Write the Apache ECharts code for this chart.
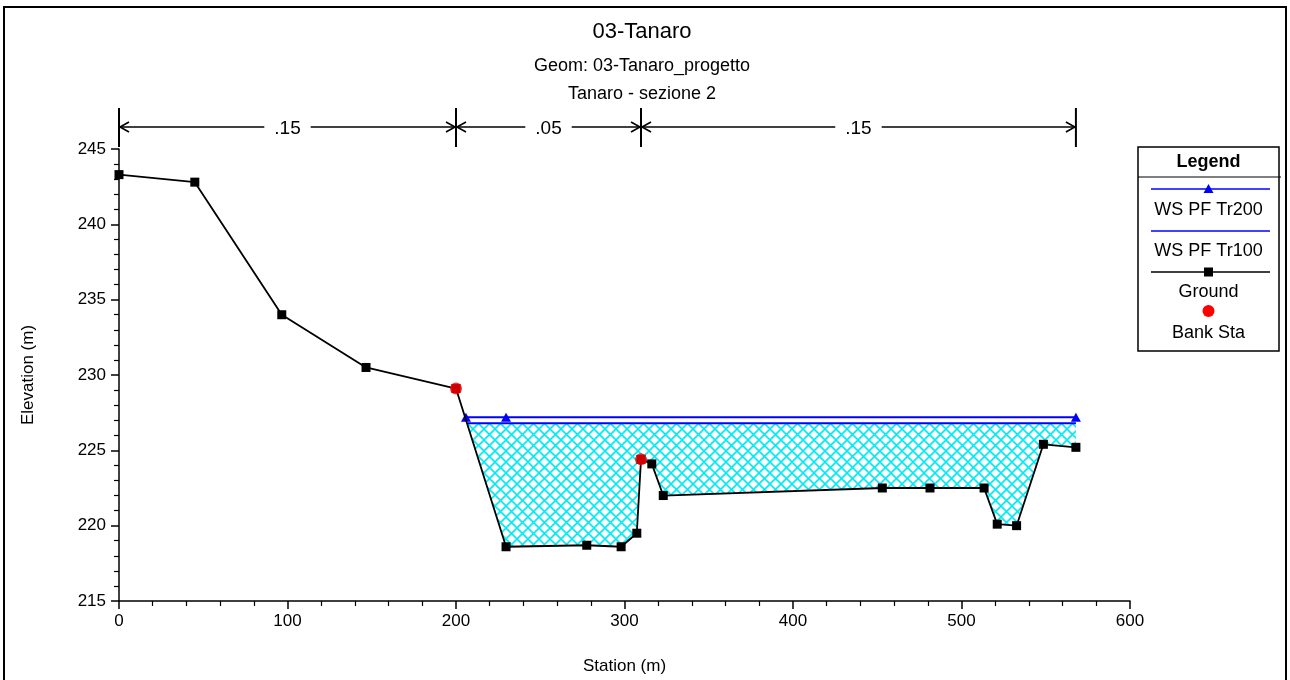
<!DOCTYPE html>
<html>
<head>
<meta charset="utf-8">
<script src="https://cdn.jsdelivr.net/npm/echarts@6/dist/echarts.min.js"></script>
<style>
  html, body { margin: 0; padding: 0; background: #fff; }
  #chart { width: 1290px; height: 680px; }
</style>
</head>
<body>
<div id="chart"></div>
<script>
// Cross section data (station m, elevation m)
const stations = [0, 45, 96.6, 146.6, 200, 229.7, 277.6, 298, 307.3, 309.8, 316.2, 323, 453, 481.3, 513.4, 521.2, 532.7, 548.6, 567.9];
const elevations = [243.3, 242.8, 234.0, 230.5, 229.1, 218.6, 218.7, 218.6, 219.5, 224.4, 224.1, 222.0, 222.5, 222.5, 222.5, 220.1, 220.0, 225.4, 225.2];

const bankStations = [200, 309.8];
const bankElevations = [229.1, 224.4];

const wsTr200Stations = [205.9, 229.7, 567.9];
const wsTr200Level = 227.2;
const wsTr100Stations = [207, 567.9];
const wsTr100Level = 226.8;

// Manning's n reaches
const nStarts = [0, 200, 309.8];
const nEnds = [200, 309.8, 567.9];
const nLabels = [".15", ".05", ".15"];

const legendNames = ["WS PF Tr200", "WS PF Tr100", "Ground", "Bank Sta"];

const FONT = '"Liberation Sans", Arial, sans-serif';

let chart = echarts.init(document.getElementById("chart"));

// cyan cross hatch
function makeHatch() {
  const s = 11;
  const c = document.createElement("canvas");
  c.width = s;
  c.height = s;
  const ctx = c.getContext("2d");
  ctx.fillStyle = "#fff";
  ctx.fillRect(0, 0, s, s);
  ctx.strokeStyle = "rgb(0,235,245)";
  ctx.lineWidth = 1.6;
  for (let k = -1; k <= 1; k++) {
    ctx.beginPath();
    ctx.moveTo(k * s, 0);
    ctx.lineTo(k * s + s, s);
    ctx.moveTo(k * s + s, 0);
    ctx.lineTo(k * s, s);
    ctx.stroke();
  }
  return c;
}
const hatch = makeHatch();

// water polygon: Tr100 surface down to the ground
function waterPolygon(level) {
  let pts = [];
  let start = -1;
  for (let i = 0; i < stations.length - 1; i++) {
    if (elevations[i] >= level && elevations[i + 1] < level) {
      const t = (elevations[i] - level) / (elevations[i] - elevations[i + 1]);
      pts.push([stations[i] + t * (stations[i + 1] - stations[i]), level]);
      start = i + 1;
      break;
    }
  }
  for (let i = start; i < stations.length; i++) {
    pts.push([stations[i], elevations[i]]);
  }
  pts.push([stations[stations.length - 1], level]);
  return pts;
}

const groundData = stations.map((x, i) => [x, elevations[i]]);
const bankData = bankStations.map((x, i) => [x, bankElevations[i]]);
const tr200Data = wsTr200Stations.map((x) => [x, wsTr200Level]);
const tr100Data = wsTr100Stations.map((x) => [x, wsTr100Level]);
const nData = nStarts.map((s, i) => [s, nEnds[i]]);

// legend drawn as HEC-RAS style box
function legendBox() {
  const left = 1138, top = 147, right = 1279, bottom = 351;
  const cx = (left + right) / 2;
  const l1 = 1151, l2 = 1270;
  const txt = (t, y, bold) => ({
    type: "text",
    x: cx,
    y: y,
    style: {
      text: t,
      font: (bold ? "bold 18px " : "18px ") + FONT,
      fill: "#000",
      align: "center",
      verticalAlign: "middle",
    },
  });
  const line = (y, color) => ({
    type: "line",
    shape: { x1: l1, y1: y, x2: l2, y2: y },
    style: { stroke: color, lineWidth: 1.6 },
  });
  return {
    type: "group",
    children: [
      {
        type: "rect",
        shape: { x: left, y: top, width: right - left, height: bottom - top },
        style: { fill: "#fff", stroke: "#000", lineWidth: 1.5 },
      },
      {
        type: "line",
        shape: { x1: left, y1: 177, x2: right + 2, y2: 177 },
        style: { stroke: "#000", lineWidth: 1.2 },
      },
      txt("Legend", 162, true),
      line(189, "#0000ff"),
      {
        type: "polygon",
        shape: { points: [[cx, 184], [cx + 5, 193], [cx - 5, 193]] },
        style: { fill: "#0000ff" },
      },
      txt(legendNames[0], 210),
      line(231, "#0000ff"),
      txt(legendNames[1], 251),
      line(272, "#000"),
      {
        type: "rect",
        shape: { x: cx - 4.5, y: 267.5, width: 9, height: 9 },
        style: { fill: "#000" },
      },
      txt(legendNames[2], 292),
      {
        type: "circle",
        shape: { cx: cx, cy: 311, r: 6 },
        style: { fill: "#ff0000" },
      },
      txt(legendNames[3], 333),
    ],
  };
}

let option = {
  animation: false,
  backgroundColor: "#fff",
  title: {
    left: 637,
    textAlign: "center",
    top: 16,
    text: "03-Tanaro",
    textStyle: { fontFamily: FONT, fontSize: 22, fontWeight: "normal", color: "#000" },
    subtext: "Geom: 03-Tanaro_progetto\nTanaro - sezione 2",
    itemGap: 9,
    subtextStyle: { fontFamily: FONT, fontSize: 18, color: "#000", lineHeight: 28 },
  },
  graphic: [
    {
      type: "rect",
      z: -10,
      shape: { x: 4, y: 7, width: 1282, height: 720 },
      style: { fill: "none", stroke: "#000", lineWidth: 2 },
      silent: true,
    },
    legendBox(),
  ],
  grid: {
    left: 119,
    right: 160,
    top: 149,
    bottom: 75,
  },
  xAxis: {
    type: "value",
    min: 0,
    max: 600,
    interval: 100,
    name: "Station (m)",
    nameLocation: "middle",
    nameGap: 57,
    nameTextStyle: { fontFamily: FONT, fontSize: 17, color: "#000" },
    axisLine: { lineStyle: { color: "#000", width: 1.5 } },
    axisTick: { length: 8, lineStyle: { color: "#000", width: 1.5 } },
    minorTick: { show: true, splitNumber: 5, length: 5, lineStyle: { color: "#000", width: 1.2 } },
    axisLabel: { fontFamily: FONT, fontSize: 17, color: "#000", margin: 12 },
    splitLine: { show: false },
  },
  yAxis: {
    type: "value",
    min: 215,
    max: 245,
    interval: 5,
    name: "Elevation (m)",
    nameLocation: "middle",
    nameGap: 82,
    nameTextStyle: { fontFamily: FONT, fontSize: 17, color: "#000" },
    axisLine: { show: true, lineStyle: { color: "#000", width: 1.5 } },
    axisTick: { show: true, length: 8, lineStyle: { color: "#000", width: 1.5 } },
    minorTick: { show: true, splitNumber: 5, length: 5, lineStyle: { color: "#000", width: 1.2 } },
    axisLabel: { fontFamily: FONT, fontSize: 17, color: "#000", margin: 13 },
    splitLine: { show: false },
  },
  series: [
    {
      name: "Water",
      type: "custom",
      z: 1,
      data: [[0]],
      renderItem: (params, api) => {
        const pts = waterPolygon(wsTr100Level).map((p) => api.coord(p));
        return {
          type: "polygon",
          shape: { points: pts },
          style: { fill: { image: hatch, repeat: "repeat" }, stroke: null },
        };
      },
    },
    {
      name: legendNames[1],
      type: "line",
      z: 2,
      data: tr100Data,
      showSymbol: false,
      symbol: "none",
      lineStyle: { color: "#0000ff", width: 2 },
    },
    {
      name: legendNames[0],
      type: "line",
      z: 3,
      data: tr200Data,
      symbol: "triangle",
      symbolSize: [10, 9],
      itemStyle: { color: "#0000ff" },
      lineStyle: { color: "#0000ff", width: 2 },
    },
    {
      name: legendNames[2],
      type: "line",
      z: 4,
      data: groundData,
      symbol: "rect",
      symbolSize: 9,
      itemStyle: { color: "#000" },
      lineStyle: { color: "#000", width: 1.8 },
    },
    {
      name: legendNames[3],
      type: "scatter",
      z: 5,
      data: bankData,
      symbol: "circle",
      symbolSize: 12,
      itemStyle: { color: "#ff0000" },
    },
    {
      name: "Manning n",
      type: "custom",
      z: 6,
      clip: false,
      data: nData,
      renderItem: (params, api) => {
        const x1 = api.coord([api.value(0), 245])[0];
        const x2 = api.coord([api.value(1), 245])[0];
        const y = api.coord([0, 245])[1] - 22;
        const ls = { stroke: "#000", lineWidth: 1.6, fill: null };
        return {
          type: "group",
          children: [
            { type: "line", shape: { x1: x1, y1: y - 19, x2: x1, y2: y + 20 }, style: { stroke: "#000", lineWidth: 2 } },
            { type: "line", shape: { x1: x2, y1: y - 19, x2: x2, y2: y + 20 }, style: { stroke: "#000", lineWidth: 2 } },
            { type: "line", shape: { x1: x1, y1: y, x2: x2, y2: y }, style: ls },
            { type: "polyline", shape: { points: [[x1 + 10, y - 5], [x1 + 1, y], [x1 + 10, y + 5]] }, style: ls },
            { type: "polyline", shape: { points: [[x2 - 10, y - 5], [x2 - 1, y], [x2 - 10, y + 5]] }, style: ls },
            {
              type: "text",
              x: (x1 + x2) / 2,
              y: y + 2,
              style: {
                text: nLabels[params.dataIndex],
                font: "19px " + FONT,
                fill: "#000",
                align: "center",
                verticalAlign: "middle",
                backgroundColor: "#fff",
                padding: [2, 10],
              },
            },
          ],
        };
      },
    },
  ],
};

chart.setOption(option);
</script>
</body>
</html>
